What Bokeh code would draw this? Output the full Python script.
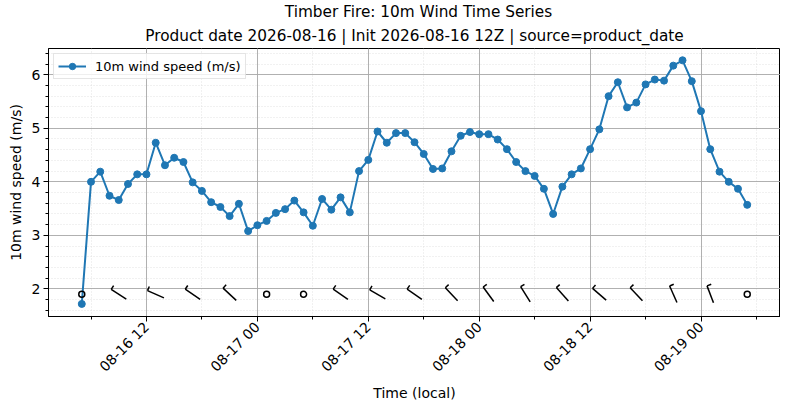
from math import pi, sin, cos, radians

import pandas as pd
from bokeh.plotting import figure
from bokeh.models import (Range1d, FixedTicker, SingleIntervalTicker, DatetimeTickFormatter,
                          Title, Legend, LegendItem)
from bokeh.embed import file_html
from bokeh.resources import INLINE

# hourly 10m wind speed (m/s), starting 2026-08-16 05:00 local
start_time = "2026-08-16 05:00"
wind_speed = [
    1.72, 4.00, 4.19, 3.74, 3.66, 3.96, 4.14, 4.14, 4.73, 4.31, 4.45, 4.37, 3.99, 3.83,
    3.62, 3.53, 3.36, 3.59, 3.08,
    3.19, 3.27, 3.42, 3.49, 3.65, 3.43, 3.18, 3.68, 3.48, 3.71, 3.43, 4.20, 4.41, 4.94,
    4.73, 4.91, 4.91, 4.74, 4.52, 4.24, 4.25, 4.57, 4.86, 4.93,
    4.89, 4.89, 4.79, 4.61, 4.37, 4.20, 4.11, 3.87, 3.40, 3.91, 4.14, 4.25, 4.61, 4.98,
    5.60, 5.86, 5.39, 5.48, 5.82, 5.91, 5.89, 6.17, 6.27, 5.88,
    5.32, 4.61, 4.19, 4.00, 3.87, 3.57,
]

# wind barbs every 4 hours (direction in degrees, None = calm circle)
barb_step = 4
barb_level = 1.9
barb_dir = [None, 303, 294, 304, 313, None, None, 305, 300, 305, 317, 324, 328,
            318, 311, 317, 336, 339, None]

x_tick_times = ["2026-08-16 12:00", "2026-08-17 00:00", "2026-08-17 12:00",
                "2026-08-18 00:00", "2026-08-18 12:00", "2026-08-19 00:00"]
x_minor_times = pd.date_range("2026-08-16 00:00", "2026-08-19 12:00", freq="6h")
x_limits = ("2026-08-16 01:24", "2026-08-19 08:36")
y_limits = (1.485, 6.49)

title_1 = "Timber Fire: 10m Wind Time Series"
title_2 = "Product date 2026-08-16 | Init 2026-08-16 12Z | source=product_date"


def ms(t):
    return pd.DatetimeIndex(pd.to_datetime(t)).asi8 / 1e6


times = ms(pd.date_range(start_time, periods=len(wind_speed), freq="h"))
x0, x1 = ms(list(x_limits))

FW, FH = 732, 268
FONT = "DejaVu Sans"

p = figure(frame_width=FW, frame_height=FH, x_axis_type="datetime",
           output_backend="svg", toolbar_location=None,
           x_range=Range1d(x0, x1), y_range=Range1d(*y_limits),
           min_border_left=48, min_border_right=0, min_border_top=0, min_border_bottom=4)

# outer title line, then the sub line nearer the plot
p.title.text = title_1
p.title.align = "center"
p.title.text_font = FONT
p.title.text_font_size = "15.3px"
p.title.text_font_style = "normal"
p.title.text_color = "black"
p.title.standoff = 0
p.title.padding = (8, 0, 0, 0)
p.add_layout(Title(text=title_2, align="center", text_font=FONT, text_font_size="15.3px",
                   text_font_style="normal", text_color="black", standoff=8), "above")

p.outline_line_color = "black"
p.outline_line_width = 1
p.background_fill_color = "white"
p.border_fill_color = "white"

# grids
for g in (p.xgrid, p.ygrid):
    g.grid_line_color = "#a8a8a8"
    g.grid_line_width = 0.9
    g.minor_grid_line_color = "#dcdcdc"
    g.minor_grid_line_dash = "1 2"
    g.minor_grid_line_width = 0.8

# axes
p.xaxis.ticker = FixedTicker(ticks=list(ms(x_tick_times)), minor_ticks=list(ms(x_minor_times)))
fmt = "%m-%d %H"
p.xaxis.formatter = DatetimeTickFormatter(milliseconds=fmt, seconds=fmt, minsec=fmt, minutes=fmt,
                                          hourmin=fmt, hours=fmt, days=fmt, months=fmt, years=fmt)
p.xaxis.major_label_orientation = pi / 4
p.yaxis.ticker = SingleIntervalTicker(interval=1, num_minor_ticks=5)
p.xaxis.axis_label = "Time (local)"
p.yaxis.axis_label = "10m wind speed (m/s)"
for ax in (p.xaxis, p.yaxis):
    ax.axis_line_color = "black"
    ax.major_tick_line_color = "black"
    ax.minor_tick_line_color = "black"
    ax.major_tick_out = 5
    ax.major_tick_in = 0
    ax.minor_tick_out = 3
    ax.minor_tick_in = 0
    ax.major_label_text_font = FONT
    ax.major_label_text_font_size = "14px"
    ax.major_label_text_color = "black"
    ax.axis_label_text_font = FONT
    ax.axis_label_text_font_size = "14px"
    ax.axis_label_text_font_style = "normal"
    ax.axis_label_text_color = "black"
    ax.major_label_standoff = 3
p.yaxis.axis_label_standoff = 5
p.xaxis.axis_label_standoff = 2

# series
line_r = p.line(times, wind_speed, line_color="#1f77b4", line_width=2)
dot_r = p.scatter(times, wind_speed, size=7, fill_color="#1f77b4", line_color="#1f77b4")

# wind barbs, geometry in screen pixels converted through the axis scales
sx = FW / (x1 - x0)
sy = FH / (y_limits[1] - y_limits[0])
barb_times = times[::barb_step]
half_staff, tick_len = 9.0, 4.5
sx0, sy0, sx1, sy1 = [], [], [], []
calm_x = []
for t, d in zip(barb_times, barb_dir):
    if d is None:
        calm_x.append(t)
        continue
    ux, uy = sin(radians(d)), cos(radians(d))
    tip_x, tip_y = t + half_staff * ux / sx, barb_level + half_staff * uy / sy
    sx0.append(t - half_staff * ux / sx)
    sy0.append(barb_level - half_staff * uy / sy)
    sx1.append(tip_x)
    sy1.append(tip_y)
    px, py = sin(radians(d + 90)), cos(radians(d + 90))
    sx0.append(tip_x)
    sy0.append(tip_y)
    sx1.append(tip_x + tick_len * px / sx)
    sy1.append(tip_y + tick_len * py / sy)
p.segment(sx0, sy0, sx1, sy1, line_color="black", line_width=1.5)
p.scatter(calm_x, [barb_level] * len(calm_x), marker="circle", size=6,
          fill_color=None, line_color="black", line_width=1.5)

legend = Legend(items=[LegendItem(label="10m wind speed (m/s)", renderers=[line_r, dot_r])],
                location="top_left")
legend.label_text_font = FONT
legend.label_text_font_size = "13px"
legend.label_text_color = "black"
legend.border_line_color = "#cccccc"
legend.background_fill_alpha = 0.8
legend.padding = 4
legend.margin = 5
legend.glyph_width = 28
legend.glyph_height = 16
legend.label_height = 16
legend.label_standoff = 9
p.add_layout(legend)

open("out.html", "w").write(file_html(p, INLINE))
